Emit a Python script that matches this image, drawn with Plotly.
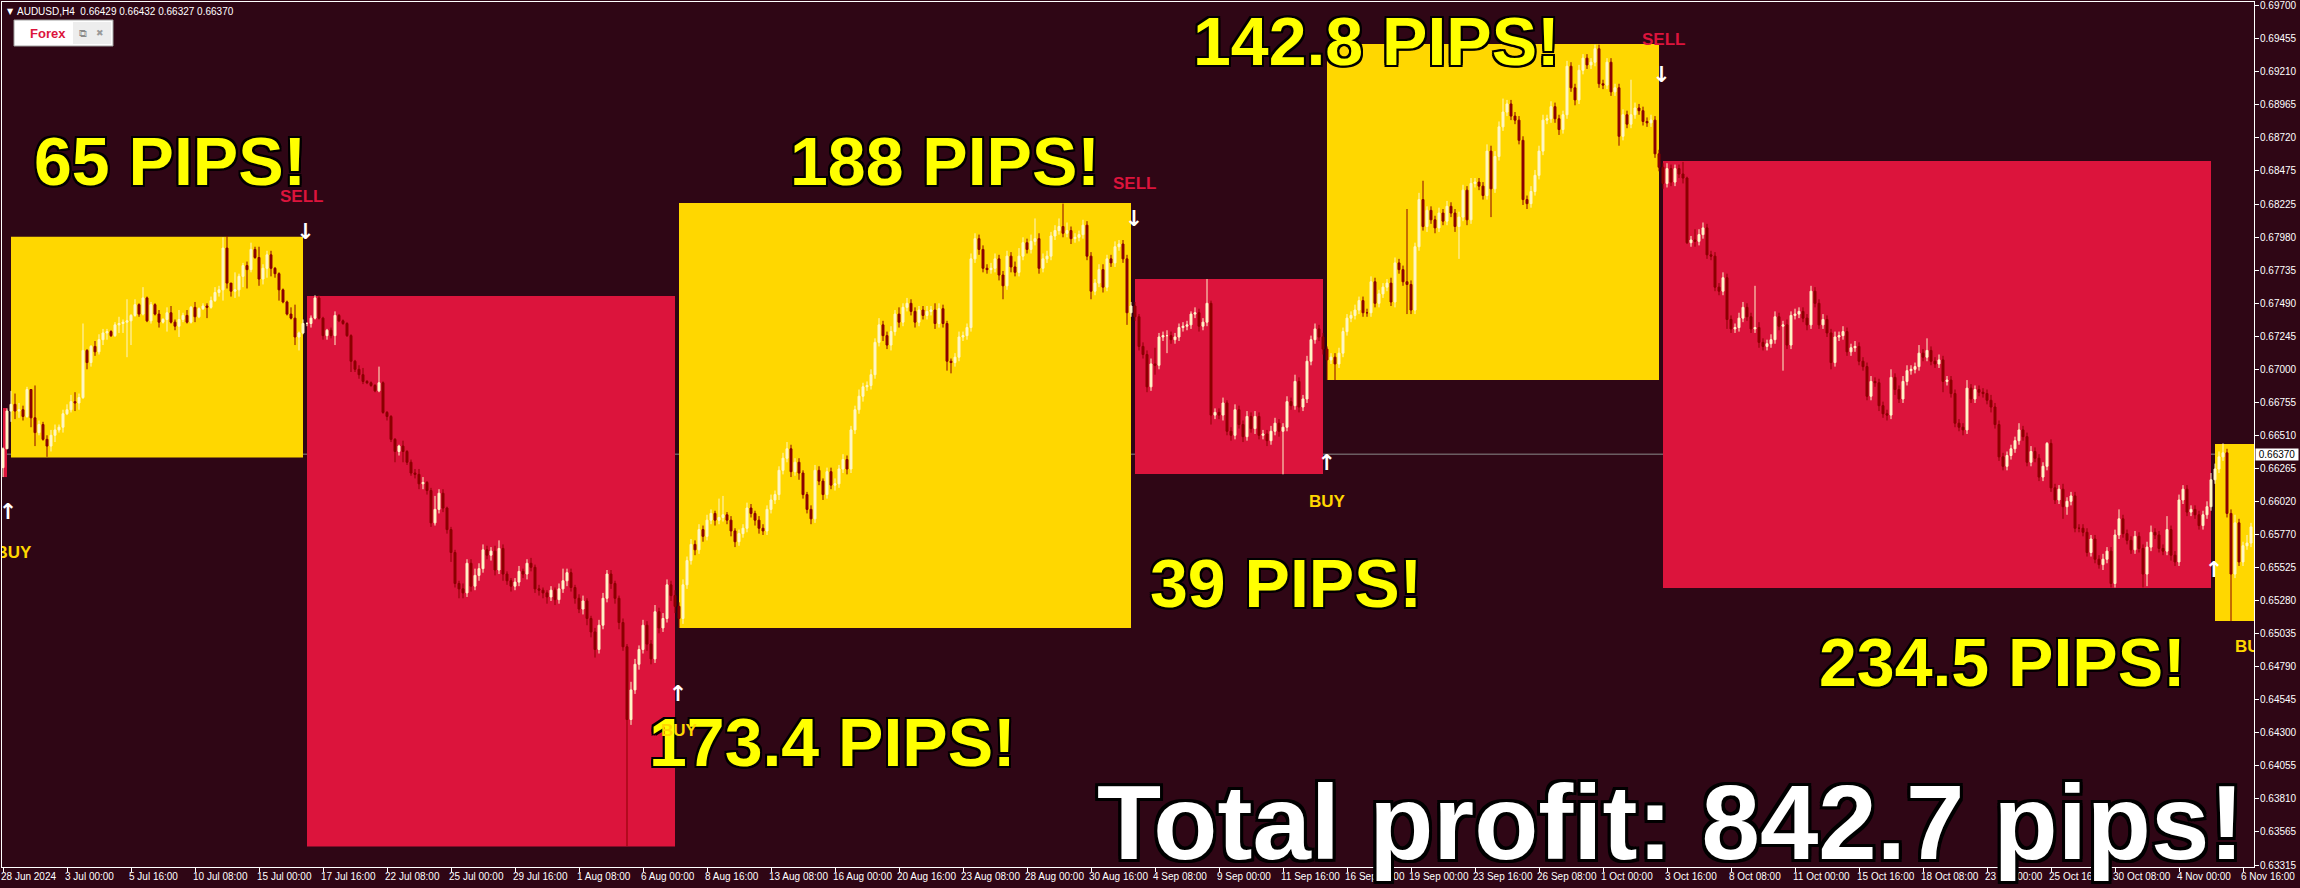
import plotly.graph_objects as go

# ---------------- data ----------------
first_open = 0.6627
closes = [
    0.6641, 0.6669, 0.6674, 0.6669, 0.6670, 0.6665, 0.6685, 0.6664, 0.6653, 0.6659,
    0.6648, 0.6643, 0.6651, 0.6655, 0.6657, 0.6667, 0.6670, 0.6676, 0.6675, 0.6679,
    0.6714, 0.6705, 0.6717, 0.6713, 0.6722, 0.6727, 0.6728, 0.6725, 0.6733, 0.6734,
    0.6735, 0.6736, 0.6740, 0.6748, 0.6741, 0.6753, 0.6736, 0.6748, 0.6741, 0.6735,
    0.6737, 0.6742, 0.6735, 0.6732, 0.6737, 0.6740, 0.6735, 0.6746, 0.6739, 0.6745,
    0.6747, 0.6746, 0.6751, 0.6757, 0.6759, 0.6790, 0.6764, 0.6758, 0.6759, 0.6769,
    0.6777, 0.6774, 0.6789, 0.6783, 0.6767, 0.6775, 0.6785, 0.6775, 0.6771, 0.6759,
    0.6750, 0.6741, 0.6738, 0.6724, 0.6727, 0.6734, 0.6734, 0.6738, 0.6753, 0.6738,
    0.6725, 0.6729, 0.6725, 0.6740, 0.6736, 0.6734, 0.6725, 0.6706, 0.6700, 0.6696,
    0.6691, 0.6690, 0.6688, 0.6684, 0.6690, 0.6668, 0.6665, 0.6648, 0.6639, 0.6643,
    0.6639, 0.6631, 0.6623, 0.6622, 0.6615, 0.6616, 0.6610, 0.6586, 0.6596, 0.6608,
    0.6597, 0.6581, 0.6564, 0.6541, 0.6537, 0.6534, 0.6556, 0.6539, 0.6547, 0.6552,
    0.6566, 0.6562, 0.6565, 0.6551, 0.6567, 0.6548, 0.6543, 0.6539, 0.6542, 0.6550,
    0.6548, 0.6556, 0.6553, 0.6537, 0.6536, 0.6534, 0.6531, 0.6536, 0.6529, 0.6537,
    0.6543, 0.6549, 0.6538, 0.6530, 0.6522, 0.6528, 0.6515, 0.6505, 0.6492, 0.6510,
    0.6530, 0.6548, 0.6541, 0.6530, 0.6512, 0.6494, 0.6440, 0.6462, 0.6481, 0.6492,
    0.6510, 0.6496, 0.6485, 0.6520, 0.6508, 0.6515, 0.6540, 0.6532, 0.6524, 0.6515,
    0.6540, 0.6558, 0.6570, 0.6566, 0.6581, 0.6576, 0.6588, 0.6593, 0.6588, 0.6590,
    0.6592, 0.6588, 0.6580, 0.6572, 0.6578, 0.6582, 0.6597, 0.6593, 0.6588, 0.6582,
    0.6580, 0.6596, 0.6603, 0.6607, 0.6625, 0.6634, 0.6641, 0.6624, 0.6631, 0.6623,
    0.6607, 0.6596, 0.6589, 0.6625, 0.6617, 0.6607, 0.6624, 0.6614, 0.6615, 0.6626,
    0.6633, 0.6626, 0.6655, 0.6670, 0.6680, 0.6687, 0.6688, 0.6696, 0.6720, 0.6733,
    0.6725, 0.6718, 0.6728, 0.6741, 0.6735, 0.6746, 0.6749, 0.6743, 0.6735, 0.6744,
    0.6740, 0.6743, 0.6744, 0.6734, 0.6745, 0.6734, 0.6706, 0.6705, 0.6709, 0.6724,
    0.6725, 0.6731, 0.6782, 0.6797, 0.6789, 0.6775, 0.6774, 0.6775, 0.6782, 0.6770,
    0.6762, 0.6784, 0.6776, 0.6772, 0.6784, 0.6794, 0.6789, 0.6795, 0.6797, 0.6775,
    0.6782, 0.6784, 0.6799, 0.6803, 0.6806, 0.6801, 0.6803, 0.6797, 0.6798, 0.6800,
    0.6807, 0.6784, 0.6758, 0.6764, 0.6774, 0.6761, 0.6782, 0.6779, 0.6791, 0.6793,
    0.6782, 0.6742, 0.6747, 0.6739, 0.6717, 0.6711, 0.6687, 0.6704, 0.6703, 0.6724,
    0.6725, 0.6725, 0.6722, 0.6724, 0.6731, 0.6732, 0.6733, 0.6741, 0.6742, 0.6732,
    0.6735, 0.6749, 0.6666, 0.6668, 0.6666, 0.6675, 0.6654, 0.6651, 0.6670, 0.6659,
    0.6650, 0.6665, 0.6656, 0.6665, 0.6651, 0.6652, 0.6647, 0.6654, 0.6660, 0.6654,
    0.6657, 0.6676, 0.6673, 0.6691, 0.6672, 0.6678, 0.6706, 0.6722, 0.6730, 0.6724,
    0.6715, 0.6707, 0.6709, 0.6704, 0.6712, 0.6728, 0.6738, 0.6740, 0.6744, 0.6751,
    0.6742, 0.6742, 0.6765, 0.6749, 0.6756, 0.6761, 0.6764, 0.6750, 0.6779, 0.6774,
    0.6765, 0.6763, 0.6744, 0.6791, 0.6826, 0.6806, 0.6818, 0.6811, 0.6805, 0.6816,
    0.6810, 0.6821, 0.6816, 0.6806, 0.6813, 0.6833, 0.6811, 0.6838, 0.6839, 0.6836,
    0.6829, 0.6862, 0.6834, 0.6858, 0.6880, 0.6891, 0.6897, 0.6888, 0.6885, 0.6870,
    0.6826, 0.6823, 0.6832, 0.6844, 0.6862, 0.6885, 0.6886, 0.6895, 0.6886, 0.6878,
    0.6889, 0.6925, 0.6909, 0.6900, 0.6922, 0.6931, 0.6926, 0.6928, 0.6938, 0.6912,
    0.6911, 0.6928, 0.6906, 0.6909, 0.6873, 0.6889, 0.6882, 0.6889, 0.6894, 0.6892,
    0.6884, 0.6883, 0.6885, 0.6860, 0.6850, 0.6838, 0.6849, 0.6839, 0.6849, 0.6845,
    0.6842, 0.6794, 0.6796, 0.6795, 0.6800, 0.6805, 0.6785, 0.6784, 0.6761, 0.6758,
    0.6768, 0.6737, 0.6730, 0.6731, 0.6738, 0.6746, 0.6739, 0.6730, 0.6731, 0.6720,
    0.6717, 0.6719, 0.6722, 0.6739, 0.6732, 0.6733, 0.6718, 0.6740, 0.6741, 0.6743,
    0.6738, 0.6733, 0.6758, 0.6749, 0.6733, 0.6737, 0.6727, 0.6705, 0.6724, 0.6725,
    0.6728, 0.6713, 0.6716, 0.6717, 0.6706, 0.6702, 0.6680, 0.6691, 0.6690, 0.6673,
    0.6667, 0.6666, 0.6694, 0.6685, 0.6678, 0.6691, 0.6699, 0.6700, 0.6702, 0.6712,
    0.6709, 0.6714, 0.6706, 0.6704, 0.6707, 0.6691, 0.6692, 0.6682, 0.6660, 0.6657,
    0.6655, 0.6686, 0.6678, 0.6685, 0.6683, 0.6682, 0.6677, 0.6672, 0.6659, 0.6635,
    0.6628, 0.6636, 0.6641, 0.6647, 0.6655, 0.6650, 0.6631, 0.6639, 0.6634, 0.6620,
    0.6628, 0.6645, 0.6612, 0.6603, 0.6611, 0.6598, 0.6602, 0.6606, 0.6582, 0.6582,
    0.6579, 0.6564, 0.6574, 0.6559, 0.6555, 0.6559, 0.6565, 0.6541, 0.6577, 0.6589,
    0.6578, 0.6573, 0.6566, 0.6576, 0.6567, 0.6548, 0.6568, 0.6579, 0.6577, 0.6567,
    0.6565, 0.6581, 0.6562, 0.6557, 0.6603, 0.6611, 0.6594, 0.6596, 0.6592, 0.6584,
    0.6592, 0.6598, 0.6618, 0.6626, 0.6635, 0.6638, 0.6593, 0.6548, 0.6586, 0.6557,
    0.6569, 0.6571, 0.6583,
]
upper_wick_pips = [
    1, 2, 10, 8, 5, 3, 2, 0, 24, 3,
    2, 3, 4, 4, 2, 3, 4, 5, 7, 3,
    20, 1, 1, 4, 4, 3, 2, 1, 2, 5,
    2, 16, 1, 4, 1, 8, 1, 2, 1, 3,
    1, 4, 5, 2, 7, 2, 4, 1, 4, 1,
    2, 2, 3, 4, 3, 8, 9, 0, 13, 2,
    2, 3, 5, 2, 8, 3, 3, 3, 1, 1,
    1, 1, 5, 10, 1, 3, 1, 2, 2, 2,
    1, 1, 2, 3, 1, 1, 1, 1, 1, 3,
    5, 1, 1, 1, 12, 1, 1, 1, 1, 1,
    4, 1, 2, 3, 4, 4, 1, 2, 10, 3,
    3, 1, 2, 2, 2, 4, 3, 3, 5, 4,
    4, 3, 3, 4, 6, 3, 2, 2, 3, 4,
    2, 3, 4, 2, 3, 2, 2, 3, 2, 4,
    9, 3, 3, 2, 3, 4, 2, 2, 3, 4,
    4, 3, 3, 2, 2, 3, 2, 6, 4, 3,
    4, 3, 3, 5, 3, 4, 4, 3, 4, 3,
    4, 3, 4, 3, 4, 3, 4, 3, 2, 14,
    14, 2, 3, 2, 3, 3, 4, 3, 2, 3,
    3, 3, 4, 3, 3, 4, 5, 3, 3, 3,
    2, 2, 3, 4, 3, 2, 3, 3, 4, 3,
    4, 3, 3, 3, 5, 3, 3, 4, 3, 5,
    3, 3, 4, 3, 5, 3, 4, 3, 3, 3,
    3, 4, 3, 5, 4, 3, 2, 2, 3, 4,
    3, 3, 4, 4, 3, 3, 3, 4, 4, 3,
    3, 4, 3, 4, 6, 4, 3, 5, 15, 4,
    4, 4, 3, 4, 6, 17, 6, 3, 3, 3,
    4, 3, 3, 3, 4, 4, 3, 3, 4, 3,
    3, 3, 3, 3, 2, 3, 3, 4, 12, 3,
    3, 4, 3, 3, 3, 3, 3, 2, 4, 3,
    3, 18, 2, 3, 3, 4, 2, 3, 4, 3,
    3, 4, 3, 4, 3, 3, 3, 4, 4, 3,
    3, 4, 3, 5, 3, 3, 4, 3, 4, 3,
    3, 2, 3, 3, 4, 3, 3, 3, 4, 3,
    3, 3, 4, 3, 3, 3, 3, 4, 4, 3,
    3, 54, 3, 3, 5, 14, 3, 3, 3, 4,
    3, 4, 3, 3, 4, 4, 3, 4, 3, 3,
    3, 5, 4, 4, 4, 10, 3, 3, 3, 3,
    3, 3, 4, 4, 4, 4, 3, 4, 3, 3,
    3, 4, 3, 3, 4, 3, 3, 3, 3, 3,
    3, 3, 3, 3, 3, 4, 3, 26, 4, 3,
    3, 3, 4, 3, 3, 3, 4, 3, 3, 3,
    9, 1, 3, 8, 4, 4, 3, 3, 3, 3,
    4, 3, 3, 3, 4, 4, 3, 3, 31, 4,
    3, 3, 4, 4, 3, 3, 4, 3, 4, 3,
    3, 3, 4, 3, 3, 4, 3, 3, 4, 3,
    4, 3, 3, 4, 3, 3, 3, 4, 3, 3,
    3, 3, 6, 3, 3, 4, 4, 3, 3, 6,
    3, 9, 3, 3, 4, 3, 3, 3, 3, 3,
    3, 6, 3, 3, 3, 3, 3, 4, 3, 3,
    3, 3, 3, 3, 5, 3, 3, 4, 3, 3,
    3, 1, 3, 3, 3, 4, 3, 3, 3, 3,
    3, 3, 3, 3, 3, 4, 3, 3, 4, 7,
    3, 3, 3, 4, 3, 3, 4, 5, 3, 3,
    3, 10, 3, 3, 4, 3, 3, 3, 3, 3,
    3, 4, 5, 4, 4, 7, 3, 3, 6, 3,
    3, 6, 3,
]
lower_wick_pips = [
    7, 0, 8, 6, 5, 3, 1, 7, 10, 2,
    1, 8, 4, 5, 2, 4, 1, 2, 6, 5,
    1, 5, 3, 3, 2, 4, 5, 1, 1, 6,
    7, 26, 18, 1, 2, 1, 1, 2, 1, 4,
    1, 9, 1, 3, 8, 2, 1, 1, 4, 1,
    1, 8, 1, 1, 3, 8, 4, 4, 5, 5,
    8, 14, 2, 1, 5, 4, 7, 6, 3, 8,
    1, 1, 1, 6, 10, 1, 2, 3, 1, 1,
    3, 3, 2, 7, 1, 1, 1, 8, 2, 3,
    2, 1, 1, 1, 1, 1, 3, 2, 8, 3,
    8, 2, 2, 3, 4, 4, 3, 3, 2, 3,
    3, 3, 7, 3, 7, 4, 3, 4, 3, 4,
    3, 3, 4, 4, 3, 5, 3, 4, 3, 3,
    3, 4, 3, 3, 4, 4, 5, 3, 4, 3,
    3, 4, 3, 4, 3, 4, 5, 4, 6, 3,
    3, 3, 4, 4, 5, 3, 94, 4, 3, 4,
    3, 5, 4, 3, 4, 3, 3, 4, 5, 7,
    4, 3, 3, 4, 3, 4, 3, 3, 4, 3,
    3, 3, 4, 4, 3, 3, 3, 3, 4, 4,
    3, 3, 3, 3, 4, 3, 3, 4, 3, 5,
    3, 3, 4, 3, 3, 4, 3, 3, 4, 3,
    3, 4, 3, 3, 3, 4, 3, 3, 3, 3,
    4, 3, 4, 3, 4, 3, 3, 3, 4, 3,
    3, 3, 3, 4, 3, 3, 7, 8, 3, 3,
    3, 3, 3, 3, 4, 3, 3, 3, 3, 4,
    10, 3, 4, 3, 3, 3, 3, 3, 3, 4,
    3, 3, 3, 3, 3, 3, 3, 4, 3, 3,
    3, 3, 6, 3, 3, 4, 3, 3, 3, 3,
    3, 9, 3, 3, 3, 3, 4, 3, 7, 3,
    3, 13, 3, 3, 3, 3, 3, 3, 3, 4,
    3, 3, 7, 3, 3, 4, 3, 4, 3, 3,
    4, 3, 3, 4, 3, 3, 4, 3, 3, 4,
    32, 3, 3, 3, 4, 3, 3, 3, 3, 3,
    4, 15, 3, 12, 3, 3, 3, 3, 3, 3,
    3, 3, 3, 3, 3, 3, 3, 3, 4, 3,
    3, 22, 3, 3, 3, 3, 4, 3, 4, 3,
    3, 3, 3, 4, 24, 3, 4, 3, 3, 3,
    3, 3, 21, 3, 3, 3, 3, 3, 3, 3,
    4, 4, 3, 3, 3, 3, 3, 3, 3, 4,
    3, 3, 3, 4, 3, 3, 3, 3, 3, 3,
    3, 3, 3, 3, 7, 3, 3, 3, 3, 3,
    3, 3, 3, 3, 3, 4, 3, 3, 3, 3,
    4, 1, 3, 4, 3, 3, 3, 3, 3, 3,
    3, 7, 3, 3, 3, 3, 3, 3, 3, 4,
    3, 3, 3, 3, 3, 33, 3, 3, 3, 3,
    3, 4, 3, 3, 3, 3, 3, 5, 3, 3,
    3, 3, 3, 3, 3, 3, 3, 3, 3, 4,
    3, 4, 3, 4, 3, 3, 3, 3, 3, 3,
    3, 3, 3, 3, 3, 8, 3, 3, 3, 3,
    4, 3, 3, 3, 3, 3, 3, 4, 3, 3,
    3, 3, 3, 3, 3, 3, 3, 3, 3, 3,
    3, 3, 3, 3, 3, 9, 6, 3, 3, 3,
    3, 3, 3, 3, 3, 4, 3, 3, 3, 3,
    3, 3, 3, 3, 3, 10, 9, 3, 3, 3,
    3, 3, 4, 3, 3, 3, 3, 3, 3, 3,
    3, 3, 3, 3, 3, 3, 3, 35, 3, 3,
    3, 3, 3,
]

# x-axis date labels, one every 16 H4 bars starting at bar 0
date_labels = [
    "28 Jun 2024", "3 Jul 00:00", "5 Jul 16:00", "10 Jul 08:00", "15 Jul 00:00",
    "17 Jul 16:00", "22 Jul 08:00", "25 Jul 00:00", "29 Jul 16:00", "1 Aug 08:00",
    "6 Aug 00:00", "8 Aug 16:00", "13 Aug 08:00", "16 Aug 00:00", "20 Aug 16:00",
    "23 Aug 08:00", "28 Aug 00:00", "30 Aug 16:00", "4 Sep 08:00", "9 Sep 00:00",
    "11 Sep 16:00", "16 Sep 08:00", "19 Sep 00:00", "23 Sep 16:00", "26 Sep 08:00",
    "1 Oct 00:00", "3 Oct 16:00", "8 Oct 08:00", "11 Oct 00:00", "15 Oct 16:00",
    "18 Oct 08:00", "23 Oct 00:00", "25 Oct 16:00", "30 Oct 08:00", "4 Nov 00:00",
    "6 Nov 16:00",
]
bars_per_label = 16

price_ticks = [
    "0.69700", "0.69455", "0.69210", "0.68965", "0.68720", "0.68475", "0.68225",
    "0.67980", "0.67735", "0.67490", "0.67245", "0.67000", "0.66755", "0.66510",
    "0.66265", "0.66020", "0.65770", "0.65525", "0.65280", "0.65035", "0.64790",
    "0.64545", "0.64300", "0.64055", "0.63810", "0.63565", "0.63315",
]

# trade boxes: bar span and price span
box_start = [0, 2, 76, 169, 283, 331, 415, 553]
box_end = [1, 75, 168, 282, 330, 414, 552, 566]
box_low = [0.66200, 0.66345, 0.63457, 0.65079, 0.66223, 0.66921, 0.65376, 0.65131]
box_high = [0.66713, 0.67984, 0.67544, 0.68235, 0.67670, 0.69415, 0.68546, 0.66445]
box_side = ["sell", "buy", "sell", "buy", "sell", "buy", "sell", "buy"]

# signals
buy_arrow_bar = [1.25, 168.75, 330.9, 552.75]
buy_arrow_price = [0.65933, 0.64577, 0.66293, 0.65497]
buy_text_bar = [2.6, 169.0, 331.0, 562.5]
buy_text_price = [0.65629, 0.64318, 0.66015, 0.64931]
sell_arrow_bar = [75.6, 282.75, 414.6]
sell_arrow_price = [0.68012, 0.68108, 0.69172]
sell_text_bar = [74.5, 282.75, 415.0]
sell_text_price = [0.68281, 0.68379, 0.69445]

profit_labels = ["65 PIPS!", "188 PIPS!", "142.8 PIPS!", "39 PIPS!", "173.4 PIPS!", "234.5 PIPS!"]
total_label = "Total profit: 842.7 pips!"
header_text = "AUDUSD,H4\u00a0\u00a00.66429 0.66432 0.66327 0.66370"
current_price = 0.66370
current_price_text = "0.66370"

# ---------------- styling ----------------
BG = "#2F0615"
BULL = "#FFF6C8"
BEAR = "#8B0000"
YEL_BOX = "#FFD700"
RED_BOX = "#DC143C"
W, H = 2300, 888
PL, PR, PT, PB = 2, 2254, 2, 867  # plot area in pixels
Y_TOP, Y_BOT = 0.69727, 0.63305
X_LEFT, X_RIGHT = -0.25, 562.75
AXIS_FONT = dict(family="Liberation Sans", size=10, color="white")
LABEL_FONT_BUY = dict(family="Liberation Sans", size=17, color="#FFD700")
LABEL_FONT_SELL = dict(family="Liberation Sans", size=17, color=RED_BOX)


def pxx(x):
    return (x - PL) / (PR - PL)


def pxy(y):
    return 1 - (y - PT) / (PB - PT)


n = len(closes)
bars = list(range(n))
opens = [first_open] + closes[:-1]
highs = [round(max(o, c) + u / 10000, 5) for o, c, u in zip(opens, closes, upper_wick_pips)]
lows = [round(min(o, c) - d / 10000, 5) for o, c, d in zip(opens, closes, lower_wick_pips)]

fig = go.Figure()

fig.add_trace(go.Candlestick(
    x=bars, open=opens, high=highs, low=lows, close=closes,
    increasing=dict(fillcolor=BULL, line=dict(color=BULL, width=1)),
    decreasing=dict(fillcolor=BEAR, line=dict(color=BEAR, width=1)),
    whiskerwidth=0, hoverinfo="skip", showlegend=False,
))

arrow_font = dict(family="DejaVu Sans", size=22, color="white", weight="bold")
fig.add_trace(go.Scatter(x=buy_arrow_bar, y=buy_arrow_price, mode="text",
                         text=["\u2191"] * len(buy_arrow_bar), textfont=arrow_font,
                         cliponaxis=True, hoverinfo="skip", showlegend=False))
fig.add_trace(go.Scatter(x=sell_arrow_bar, y=sell_arrow_price, mode="text",
                         text=["\u2193"] * len(sell_arrow_bar), textfont=arrow_font,
                         cliponaxis=True, hoverinfo="skip", showlegend=False))
# labels that touch the chart edges are clipped like in the terminal
edge_buy = [i for i, b in enumerate(buy_text_bar) if b < 10 or b > 550]
inner_buy = [i for i in range(len(buy_text_bar)) if i not in edge_buy]
fig.add_trace(go.Scatter(x=[buy_text_bar[i] for i in edge_buy],
                         y=[buy_text_price[i] for i in edge_buy], mode="text",
                         text=["<b>BUY</b>"] * len(edge_buy), textfont=LABEL_FONT_BUY,
                         cliponaxis=True, hoverinfo="skip", showlegend=False))

shapes = []
for s, e, lo, hi, side in zip(box_start, box_end, box_low, box_high, box_side):
    shapes.append(dict(type="rect", xref="x", yref="y", x0=s, x1=e, y0=lo, y1=hi,
                       fillcolor=YEL_BOX if side == "buy" else RED_BOX,
                       line=dict(width=0), layer="below"))
shapes.append(dict(type="line", xref="paper", yref="y", x0=0, x1=1,
                   y0=current_price, y1=current_price,
                   line=dict(color="#8A8A8A", width=1), layer="below"))
# small "Forex" panel at top-left
shapes.append(dict(type="rect", xref="paper", yref="paper",
                   x0=pxx(14), x1=pxx(113), y0=pxy(46), y1=pxy(20),
                   fillcolor="white", line=dict(color="#A0A0A0", width=1)))
shapes.append(dict(type="rect", xref="paper", yref="paper",
                   x0=pxx(73), x1=pxx(111), y0=pxy(44), y1=pxy(22),
                   fillcolor="#EDEDED", line=dict(width=0)))

annotations = []
# header
annotations.append(dict(xref="paper", yref="paper", x=pxx(5), y=pxy(11), xanchor="left",
                        yanchor="middle", text="\u25BC", showarrow=False,
                        font=dict(family="DejaVu Sans", size=8, color="white")))
annotations.append(dict(xref="paper", yref="paper", x=pxx(15), y=pxy(11), xanchor="left",
                        yanchor="middle", text=header_text, showarrow=False,
                        font=dict(family="Liberation Sans", size=10, color="white")))
annotations.append(dict(xref="paper", yref="paper", x=pxx(48), y=pxy(33), xanchor="center",
                        yanchor="middle", text="<b>Forex</b>", showarrow=False,
                        font=dict(family="Liberation Sans", size=13, color=RED_BOX)))
annotations.append(dict(xref="paper", yref="paper", x=pxx(83), y=pxy(33), xanchor="center",
                        yanchor="middle", text="\u29C9", showarrow=False,
                        font=dict(family="DejaVu Sans", size=11, color="#8A8A8A")))
annotations.append(dict(xref="paper", yref="paper", x=pxx(100), y=pxy(33), xanchor="center",
                        yanchor="middle", text="\u2716", showarrow=False,
                        font=dict(family="DejaVu Sans", size=9, color="#9A9A9A")))
# date labels (left-aligned at their tick, like the terminal)
for k, lab in enumerate(date_labels):
    annotations.append(dict(xref="x", yref="paper", x=k * bars_per_label, y=pxy(876),
                            xanchor="left", yanchor="middle", xshift=-4, text=lab,
                            showarrow=False, font=AXIS_FONT))
# price labels on the right
for t in price_ticks:
    annotations.append(dict(xref="paper", yref="y", x=1, y=float(t), xanchor="left",
                            yanchor="middle", xshift=4, text=t, showarrow=False,
                            font=AXIS_FONT))
# current price tag
annotations.append(dict(xref="paper", yref="y", x=1, y=current_price, xanchor="left",
                        yanchor="middle", xshift=1, text="\u00a0" + current_price_text + "\u00a0",
                        showarrow=False, bgcolor="white", borderpad=0,
                        font=dict(family="Liberation Sans", size=10, color="black")))

outline2 = ", ".join(f"{dx}px {dy}px 0 #000" for dx in (-2, 0, 2) for dy in (-2, 0, 2)
                     if not (dx == 0 and dy == 0))
outline3 = ", ".join(f"{dx}px {dy}px 0 #000" for dx in (-3, 0, 3) for dy in (-3, 0, 3)
                     if not (dx == 0 and dy == 0))
profit_pos = [(169.5, 160.5), (944.5, 160.5), (1376, 41.5), (1285.5, 583),
              (832.5, 742), (2002.5, 662)]
for lab, (cx, cy) in zip(profit_labels, profit_pos):
    annotations.append(dict(xref="paper", yref="paper", x=pxx(cx), y=pxy(cy),
                            xanchor="center", yanchor="middle", text=f"<b>{lab}</b>",
                            showarrow=False,
                            font=dict(family="Liberation Sans", size=68, color="#FFFF00",
                                      shadow=outline2)))
annotations.append(dict(xref="paper", yref="paper", x=pxx(1670), y=pxy(822),
                        xanchor="center", yanchor="middle", text=f"<b>{total_label}</b>",
                        showarrow=False,
                        font=dict(family="Liberation Sans", size=105, color="white",
                                  shadow=outline3)))
# inner BUY / SELL labels sit on top of everything
for i in inner_buy:
    annotations.append(dict(xref="x", yref="y", x=buy_text_bar[i], y=buy_text_price[i],
                            xanchor="center", yanchor="middle", text="<b>BUY</b>",
                            showarrow=False, font=LABEL_FONT_BUY))
for b, p in zip(sell_text_bar, sell_text_price):
    annotations.append(dict(xref="x", yref="y", x=b, y=p, xanchor="center",
                            yanchor="middle", text="<b>SELL</b>", showarrow=False,
                            font=LABEL_FONT_SELL))

fig.update_layout(
    width=W, height=H,
    margin=dict(l=PL, r=W - PR, t=PT, b=H - PB, pad=0, autoexpand=False),
    paper_bgcolor=BG, plot_bgcolor=BG,
    showlegend=False,
    shapes=shapes, annotations=annotations,
    xaxis=dict(range=[X_LEFT, X_RIGHT], showgrid=False, zeroline=False,
               rangeslider=dict(visible=False), automargin=False,
               tickmode="array",
               tickvals=[k * bars_per_label for k in range(len(date_labels))],
               ticktext=[""] * len(date_labels),
               ticks="outside", ticklen=4, tickcolor="white", tickwidth=1,
               showline=True, linecolor="white", linewidth=1, mirror=True),
    yaxis=dict(range=[Y_BOT, Y_TOP], side="right", showgrid=False, zeroline=False,
               automargin=False,
               tickmode="array", tickvals=[float(t) for t in price_ticks],
               ticktext=[""] * len(price_ticks), ticks="outside", ticklen=4,
               tickcolor="white", tickwidth=1,
               showline=True, linecolor="white", linewidth=1, mirror=True),
)

fig.write_html(
    "out.html",
    config={"displayModeBar": False},
    post_script="document.body.style.margin='0';document.body.style.overflow='hidden';",
)
